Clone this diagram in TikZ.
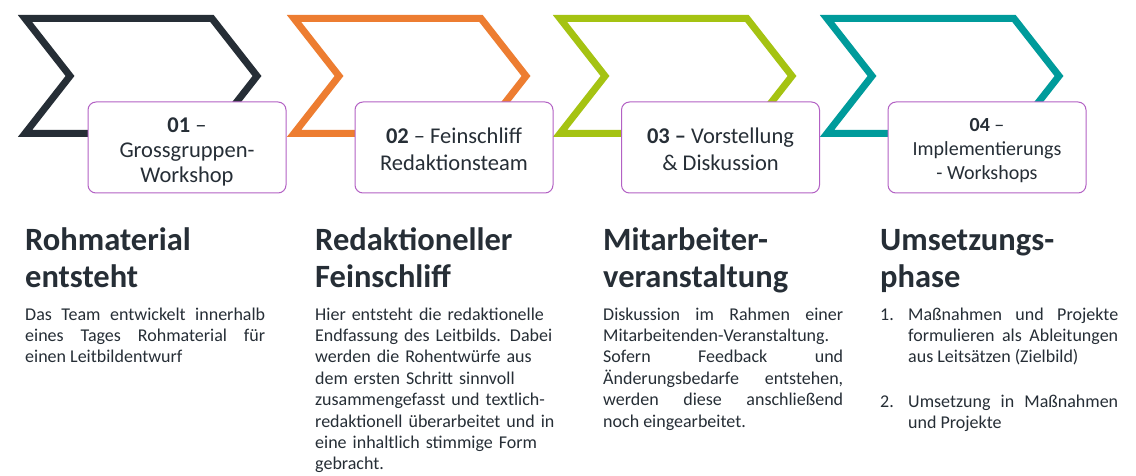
\documentclass[tikz,border=0pt]{standalone}
\usepackage{fontspec}
\setmainfont{Carlito}
\definecolor{cdark}{HTML}{262E36}
\definecolor{corange}{HTML}{ED7D31}
\definecolor{clime}{HTML}{A5C312}
\definecolor{cteal}{HTML}{009B9B}
\definecolor{cpurple}{HTML}{B361C4}
\definecolor{ctext}{HTML}{262E36}
\newcommand{\mybodysetup}{\tolerance=10000\relax\hbadness=10000\relax\exhyphenpenalty=10000\relax\hyphenpenalty=10000\relax\parindent=0pt\relax}
\begin{document}
\begin{tikzpicture}[x=1pt,y=-1pt,
  chev/.style={line width=7pt, line join=miter, miter limit=10},
  stepbox/.style={draw=cpurple, line width=1pt, fill=white, rounded corners=8pt,
    minimum width=198pt, minimum height=91pt, inner sep=0pt},
  boxlabel/.style={align=center, text=ctext, inner sep=0pt},
  head/.style={anchor=base west, inner sep=0pt, text=cdark, align=left, text width=300pt,
    font=\bfseries\fontsize{32.5}{38}\selectfont},
  body/.style={anchor=base west, inner sep=0pt, text=ctext,
    font=\fontsize{18}{21.4}\selectfont},
]
\useasboundingbox[fill=white] (0,0) rectangle (1136,476);

% chevrons
\foreach \L/\c in {25/cdark, 294/corange, 560/clime, 827/cteal}{
  \draw[chev, draw=\c] (\L,18.5) -- ++(187,0) -- (\L+232,76) -- (\L+187,133.5)
    -- (\L,133.5) -- (\L+45,76) -- cycle;
}

% step boxes
\node[stepbox] (b1) at (187,147.5) {};
\node[stepbox] (b2) at (454,147.5) {};
\node[stepbox] (b3) at (720.5,147.5) {};
\node[stepbox] (b4) at (987,147.5) {};
\node[boxlabel, font=\fontsize{22.5}{25}\selectfont] (l1) at ([yshift=-4.5pt]b1.center)
  {\textbf{01} –\\Grossgruppen-\\Workshop};
\node[boxlabel, font=\fontsize{22.5}{27}\selectfont] (l2) at ([yshift=-2pt]b2.center)
  {\textbf{02} – Feinschliff\\Redaktionsteam};
\node[boxlabel, font=\fontsize{22.5}{27}\selectfont] (l3) at ([yshift=-2pt]b3.center)
  {\textbf{03 –} Vorstellung\\\& Diskussion};
\node[boxlabel, font=\fontsize{20}{24}\selectfont] (l4) at ([yshift=-3pt]b4.center)
  {\textbf{04} –\\Implementierungs\\- Workshops};

% headings
\node[head] (h1) at (25,250) {Rohmaterial\\entsteht};
\node[head] (h2) at (315,250) {Redaktioneller\\Feinschliff};
\node[head] (h3) at (603,250) {Mitarbeiter-\\veranstaltung};
\node[head] (h4) at (880,250) {Umsetzungs-\\phase};

% body texts
\node[body, text width=240pt, align=justify] (t1) at (25,320)
  {\mybodysetup Das Team entwickelt innerhalb\linebreak eines Tages Rohmaterial für\linebreak einen Leitbildentwurf};
\node[body, text width=260pt, align=left] (t2) at (315,320)
  {Hier entsteht die redaktionelle\\Endfassung des Leitbilds. Dabei\\werden die Rohentwürfe aus\\dem ersten Schritt sinnvoll\\zusammengefasst und textlich-\\redaktionell überarbeitet und in\\eine inhaltlich stimmige Form\\gebracht.};
\node[body, text width=240pt, align=justify] (t3) at (603,320)
  {\mybodysetup Diskussion im Rahmen einer\linebreak Mitarbeitenden-Veranstaltung.\par
   Sofern Feedback und\linebreak Änderungsbedarfe entstehen,\linebreak werden diese anschließend\linebreak noch eingearbeitet.};
\node[body] (n1) at (880,320) {1.};
\node[body, text width=210pt, align=justify] (t4a) at (908,320)
  {\mybodysetup Maßnahmen und Projekte\linebreak formulieren als Ableitungen\linebreak aus Leitsätzen (Zielbild)};
\node[body] (n2) at (880,407) {2.};
\node[body, text width=210pt, align=justify] (t4b) at (908,407)
  {\mybodysetup Umsetzung in Maßnahmen\linebreak und Projekte};
\end{tikzpicture}
\end{document}
